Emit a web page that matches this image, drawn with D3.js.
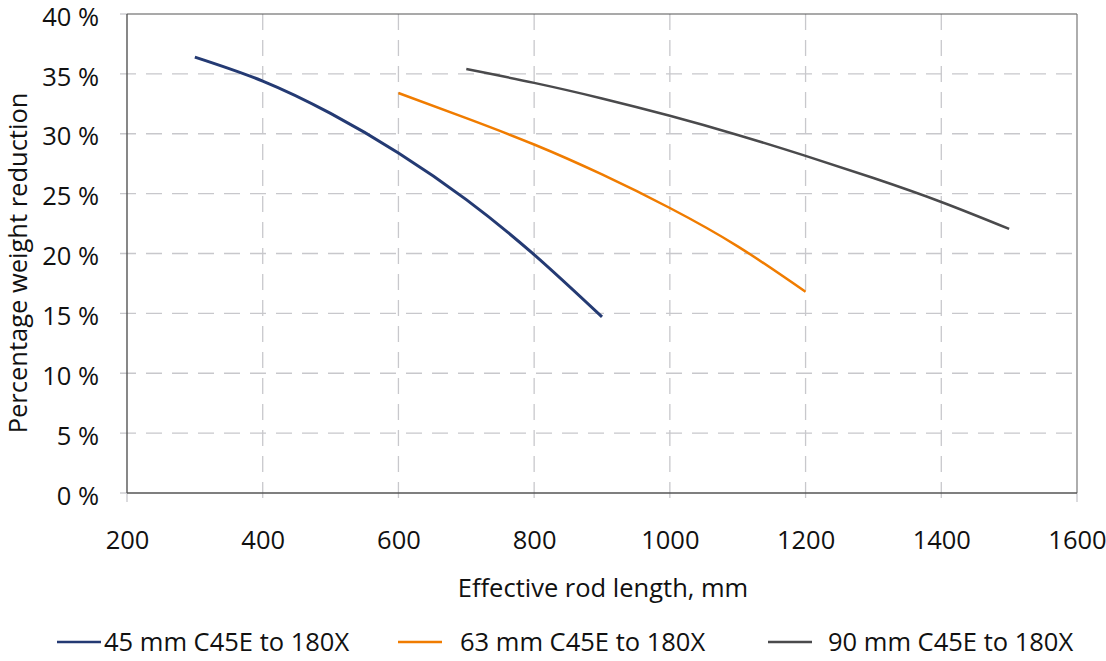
<!DOCTYPE html>
<html>
<head>
<meta charset="utf-8">
<script src="https://cdn.jsdelivr.net/npm/d3@7/dist/d3.min.js"></script>
<style>
  html, body { margin: 0; padding: 0; background: #fff; }
  svg { display: block; }
  text { font-family: "Open Sans", "Noto Sans", sans-serif; fill: #111; }
</style>
</head>
<body>
<svg id="chart" width="1106" height="661"></svg>
<script>
// ---- data ----
const seriesNames = ["45 mm C45E to 180X", "63 mm C45E to 180X", "90 mm C45E to 180X"];
const seriesColors = ["#243a73", "#f07c00", "#4a4a4c"];
const s45x = [300, 400, 500, 600, 700, 800, 900];
const s45y = [36.4, 34.4, 31.7, 28.4, 24.5, 19.9, 14.7];
const s63x = [600, 700, 800, 900, 1000, 1100, 1200];
const s63y = [33.4, 31.3, 29.1, 26.6, 23.8, 20.6, 16.8];
const s90x = [700, 800, 900, 1000, 1100, 1200, 1300, 1400, 1500];
const s90y = [35.4, 34.25, 32.95, 31.5, 29.9, 28.15, 26.3, 24.3, 22.05];
const xTicks = [200, 400, 600, 800, 1000, 1200, 1400, 1600];
const yTicks = [0, 5, 10, 15, 20, 25, 30, 35, 40];
const xTitle = "Effective rod length, mm";
const yTitle = "Percentage weight reduction";

const series = [
  { name: seriesNames[0], color: seriesColors[0], pts: s45x.map((x, i) => [x, s45y[i]]) },
  { name: seriesNames[1], color: seriesColors[1], pts: s63x.map((x, i) => [x, s63y[i]]) },
  { name: seriesNames[2], color: seriesColors[2], pts: s90x.map((x, i) => [x, s90y[i]]) }
];

// ---- layout ----
const FS = 25.5;
const svg = d3.select("#chart");
const L = 127, R = 1077, T = 14, B = 493;
const x = d3.scaleLinear().domain([200, 1600]).range([L, R]);
const y = d3.scaleLinear().domain([0, 40]).range([B, T]);
const gridColor = "#c8c8cc";

// gridlines
const grid = svg.append("g");
grid.selectAll("line.h").data(yTicks.filter(d => d > 0 && d < 40)).enter().append("line")
  .attr("x1", L - 7).attr("x2", R).attr("y1", d => y(d)).attr("y2", d => y(d))
  .attr("stroke", gridColor).attr("stroke-width", 1.3).attr("stroke-dasharray", "16,10");
grid.selectAll("line.v").data(xTicks.filter(d => d > 200 && d < 1600)).enter().append("line")
  .attr("x1", d => x(d)).attr("x2", d => x(d)).attr("y1", T).attr("y2", B + 9)
  .attr("stroke", gridColor).attr("stroke-width", 1.3).attr("stroke-dasharray", "16,10");

// outward tick stubs at ends
svg.append("line").attr("x1", L - 7).attr("x2", L).attr("y1", y(0)).attr("y2", y(0)).attr("stroke", gridColor).attr("stroke-width", 1.3);
svg.append("line").attr("x1", L - 7).attr("x2", L).attr("y1", y(40)).attr("y2", y(40)).attr("stroke", gridColor).attr("stroke-width", 1.3);
svg.append("line").attr("x1", L).attr("x2", L).attr("y1", B).attr("y2", B + 9).attr("stroke", gridColor).attr("stroke-width", 1.3);
svg.append("line").attr("x1", R).attr("x2", R).attr("y1", B).attr("y2", B + 9).attr("stroke", gridColor).attr("stroke-width", 1.3);

// frame
svg.append("line").attr("x1", L).attr("x2", R).attr("y1", T).attr("y2", T).attr("stroke", "#555").attr("stroke-width", 1.2);
svg.append("line").attr("x1", R).attr("x2", R).attr("y1", T).attr("y2", B).attr("stroke", "#777").attr("stroke-width", 1.2);
svg.append("line").attr("x1", L).attr("x2", L).attr("y1", T).attr("y2", B).attr("stroke", "#555").attr("stroke-width", 1.4);
svg.append("line").attr("x1", L).attr("x2", R).attr("y1", B).attr("y2", B).attr("stroke", "#555").attr("stroke-width", 1.4);

// axis labels via d3 axes (lines hidden)
const yAxis = svg.append("g").attr("transform", `translate(${L - 28},0)`)
  .call(d3.axisLeft(y).tickValues(yTicks).tickSize(0).tickFormat(d => d + " %"));
yAxis.select(".domain").remove();
yAxis.selectAll("text").attr("x", 0).attr("font-size", FS).attr("fill", "#111").attr("dy", "0.44em")
  .attr("font-family", "'Open Sans', sans-serif");

const xAxis = svg.append("g").attr("transform", `translate(0,549)`)
  .call(d3.axisBottom(x).tickValues(xTicks).tickSize(0).tickFormat(d3.format("d")));
xAxis.select(".domain").remove();
xAxis.selectAll("text").attr("y", 0).attr("font-size", FS).attr("fill", "#111").attr("dy", "0")
  .attr("font-family", "'Open Sans', sans-serif");

// titles
svg.append("text").attr("x", (L + R) / 2 + 1).attr("y", 597).attr("text-anchor", "middle")
  .attr("font-size", FS).text(xTitle);
svg.append("text").attr("transform", `translate(27,263) rotate(-90)`).attr("text-anchor", "middle")
  .attr("font-size", FS).text(yTitle);

// lines
const line = d3.line().x(d => x(d[0])).y(d => y(d[1])).curve(d3.curveNatural);
svg.append("g").selectAll("path").data(series).enter().append("path")
  .attr("d", d => line(d.pts)).attr("fill", "none")
  .attr("stroke", d => d.color).attr("stroke-width", (d, i) => i === 0 ? 3 : 2.5);

// legend
const legX = [57, 398, 768];
const legTextOff = [47, 62, 60];
const leg = svg.append("g").selectAll("g").data(series).enter().append("g")
  .attr("transform", (d, i) => `translate(${legX[i]},642)`);
leg.append("line").attr("x1", 0).attr("x2", 44).attr("y1", 0).attr("y2", 0)
  .attr("stroke", d => d.color).attr("stroke-width", 2.5);
leg.append("text").attr("x", (d, i) => legTextOff[i]).attr("y", 0).attr("dy", "0.36em")
  .attr("font-size", FS).text(d => d.name);
</script>
</body>
</html>
